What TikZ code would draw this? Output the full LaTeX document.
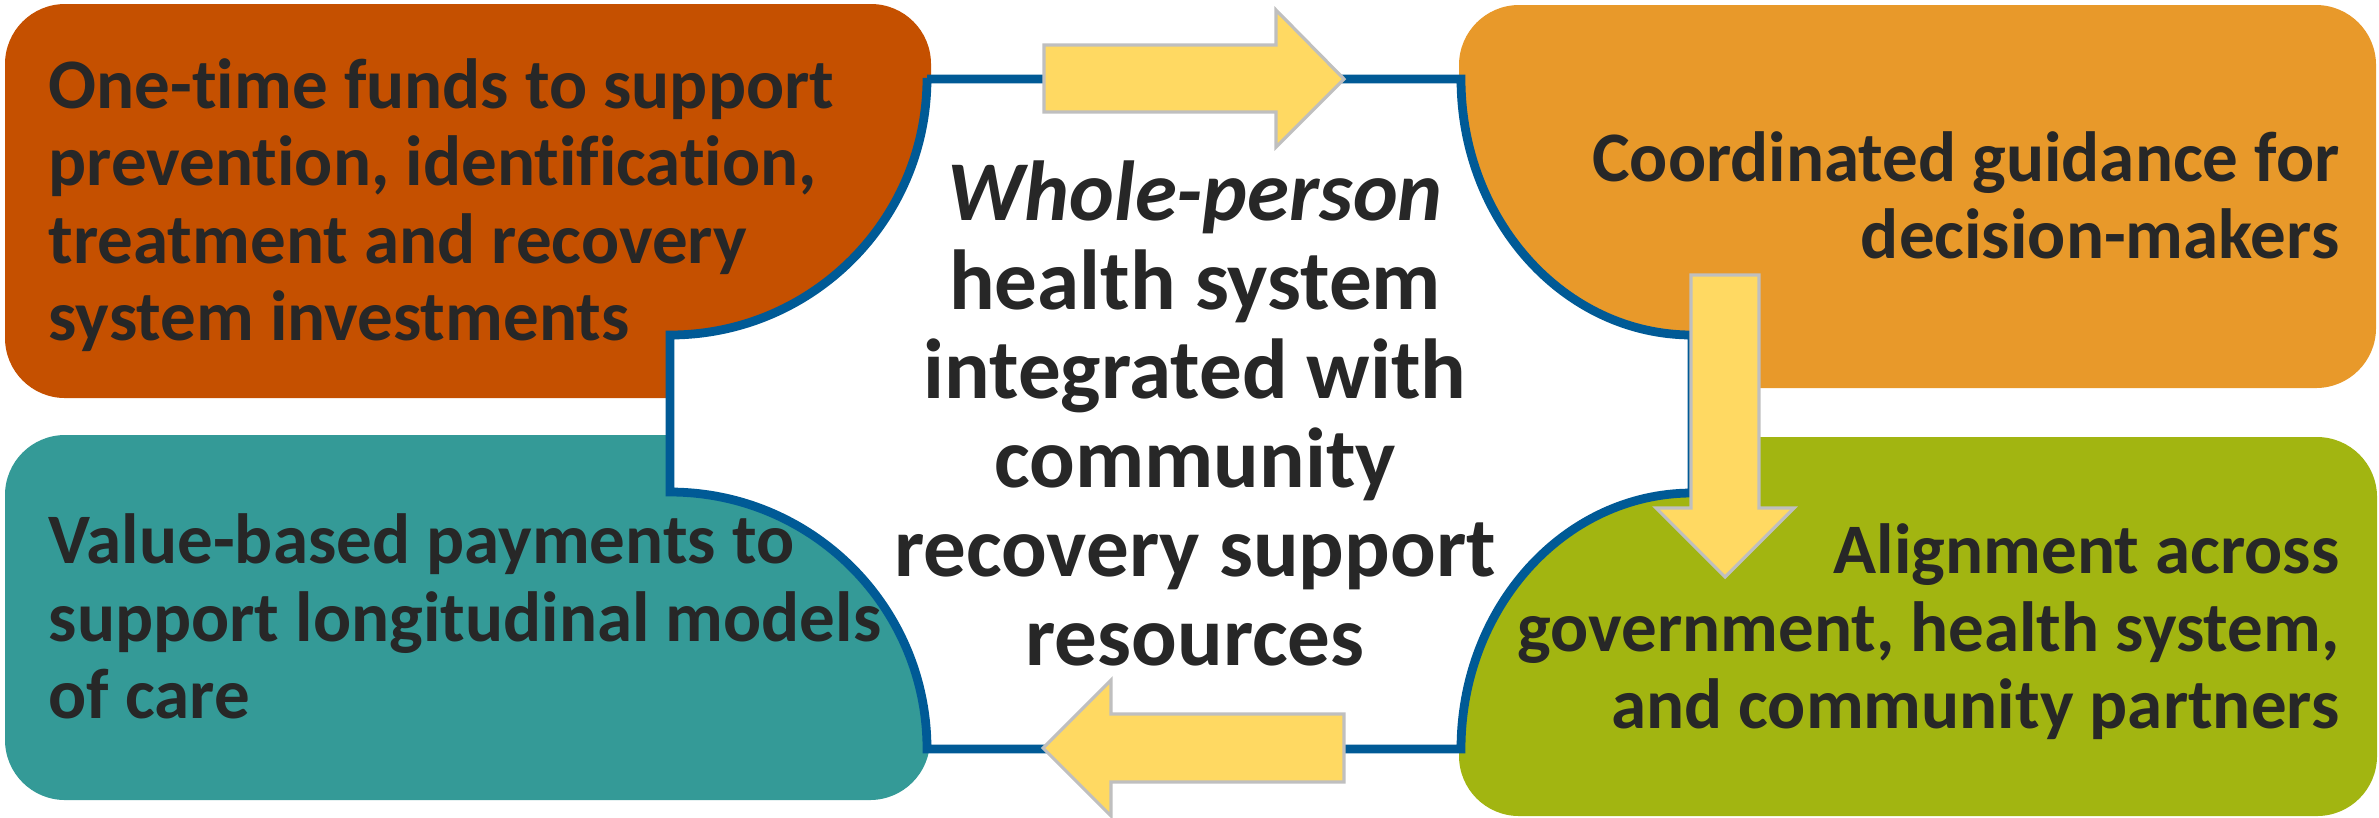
\documentclass[tikz,border=0pt]{standalone}
\usepackage{fontspec}
\setmainfont{Carlito}[Ligatures=NoCommon]

\definecolor{fundsred}{HTML}{C55000}
\definecolor{guideorange}{HTML}{E8992A}
\definecolor{payteal}{HTML}{349A97}
\definecolor{alignolive}{HTML}{A2B511}
\definecolor{ringblue}{HTML}{005A96}
\definecolor{flowgold}{HTML}{FFD962}
\definecolor{flowedge}{HTML}{BFBFBF}
\definecolor{inkgray}{HTML}{272727}

\begin{document}
\begin{tikzpicture}[x=0.01cm,y=-0.01cm,
  box/.style={rounded corners=0.6cm},
  ring/.style={draw=ringblue, fill=white, line width=2.5pt, line join=miter},
  flow/.style={fill=flowgold, draw=flowedge, line width=0.9pt, line join=miter},
  side/.style={font=\bfseries\fontsize{20.2}{21.9}\selectfont, text=inkgray, inner sep=0pt},
  hub/.style={font=\bfseries\fontsize{24.2}{25.3}\selectfont, text=inkgray, inner sep=0pt, align=center}]
\useasboundingbox (0,0) rectangle (2379,817);
% the four corner blocks
\fill[box, fundsred] (5,4) rectangle (931,398);
\fill[box, guideorange] (1459,5) rectangle (2376,388);
\fill[box, payteal] (5,435) rectangle (930,800);
\fill[box, alignolive] (1459,437) rectangle (2377,816);
% middle panel, corners scooped out
\draw[ring] (927,79) -- (1461,79)
  arc[start angle=180, end angle=90, x radius=231, y radius=256]
  -- (1692,493)
  arc[start angle=270, end angle=180, x radius=231, y radius=256]
  -- (927,749)
  arc[start angle=0, end angle=-90, radius=257]
  -- (670,335)
  arc[start angle=90, end angle=0, radius=257]
  -- cycle;
% block arrows
\draw[flow] (1044,45) -- (1276,45) -- (1276,10) -- (1344,79) -- (1276,147) -- (1276,112) -- (1044,112) -- cycle;
\draw[flow] (1691,275) -- (1759,275) -- (1759,508) -- (1794,508) -- (1725,577) -- (1656,508) -- (1691,508) -- cycle;
\draw[flow] (1344,714) -- (1111,714) -- (1111,680) -- (1043,748) -- (1111,816) -- (1111,782) -- (1344,782) -- cycle;
% texts (base = last line)
\node[side, anchor=base west, align=left] (funds) at (48,340) {One-time funds to support\\prevention, identification,\\treatment and recovery\\system investments};
\node[side, anchor=base east, align=right] (guide) at (2340,258) {Coordinated guidance for\\decision-makers};
\node[side, anchor=base west, align=left] (pay) at (48,718) {Value-based payments to\\support longitudinal models\\of care};
\node[side, anchor=base east, align=right] (partners) at (2340,728) {Alignment across\\government, health system,\\and community partners};
\node[hub, anchor=base] (whole) at (1195,665) {\textit{Whole-person}\\health system\\integrated with\\community\\recovery support\\resources};
\end{tikzpicture}
\end{document}
